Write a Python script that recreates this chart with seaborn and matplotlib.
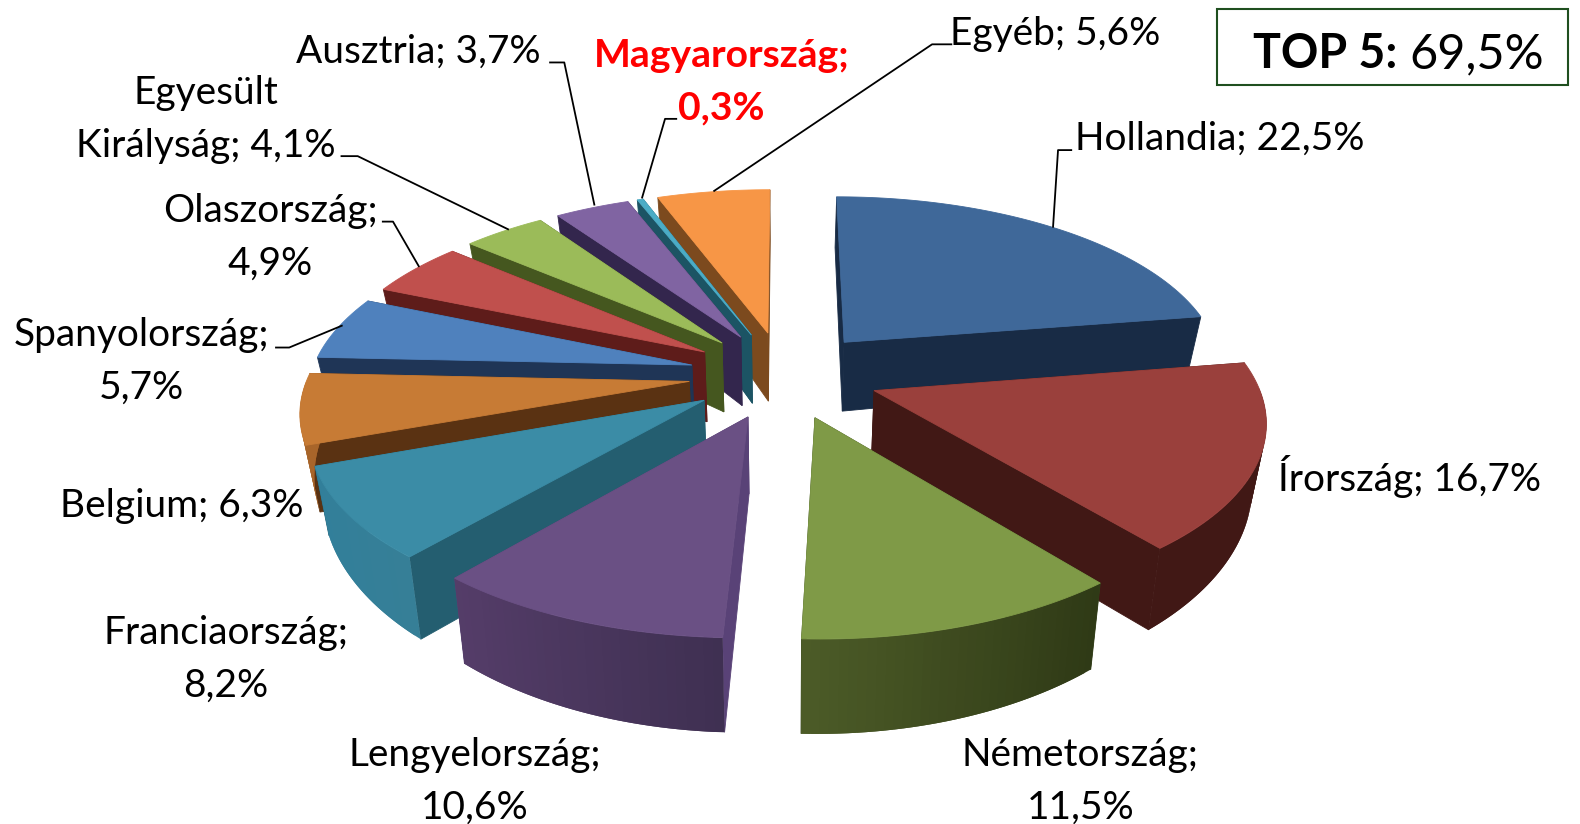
import numpy as np
import pandas as pd
import matplotlib
matplotlib.use("Agg")
import matplotlib.pyplot as plt
from matplotlib.patches import Polygon, Rectangle
import seaborn as sns

# ---- data -------------------------------------------------------------
countries = ["Hollandia", "Írország", "Németország", "Lengyelország", "Franciaország",
             "Belgium", "Spanyolország", "Olaszország", "Egyesült Királyság", "Ausztria",
             "Magyarország", "Egyéb"]
shares = [22.5, 16.7, 11.5, 10.6, 8.2, 6.3, 5.7, 4.9, 4.1, 3.7, 0.3, 5.6]
label_texts = ["Hollandia; 22,5%", "Írország; 16,7%", "Németország;\n11,5%", "Lengyelország;\n10,6%",
               "Franciaország;\n8,2%", "Belgium; 6,3%", "Spanyolország;\n5,7%", "Olaszország;\n4,9%",
               "Egyesült\nKirályság; 4,1%", "Ausztria; 3,7%", "Magyarország;\n0,3%", "Egyéb; 5,6%"]
top_colors = ["#3F6899", "#9A403C", "#7F9A47", "#6A5084", "#3B8CA6", "#C77B35",
              "#4F81BD", "#C0504D", "#9BBB59", "#8064A2", "#4BACC6", "#F79646"]
wall_colors = ["#182B45", "#411815", "#33401A", "#594277", "#245E70", "#5A3212",
               "#1F3556", "#5E1C1A", "#45571F", "#33264D", "#1C5464", "#7C4A1E"]
rim_left = ["#1C3350", "#411815", "#4D5C28", "#553D69", "#327F9A", "#A8652A",
            "#3A659A", "#8E3A38", "#6F8A3E", "#5E4979", "#327F94", "#B96F33"]
rim_right = ["#1C3350", "#411815", "#2F3A16", "#3F3052", "#367F97", "#A8652A",
             "#3A659A", "#8E3A38", "#6F8A3E", "#5E4979", "#327F94", "#B96F33"]

# ---- layout of labels and leaders (reference pixels) --------------------
label_pos = [(1067, 138, "left"), (1268, 473, "left"), (1072, 776, "center"), (471, 776, "center"),
             (224, 655, "center"), (301, 502, "right"), (140, 359, "center"), (268, 236, "center"),
             (204, 119, "center"), (537, 51, "right"), (716, 81, "center"), (1152, 34, "right")]
leaders = {
    "Hollandia": [(1064, 149), (1050, 149), (1045, 226)],
    "Egyéb": [(945, 44), (925, 44), (708, 190)],
    "Magyarország": [(672, 118), (660, 118), (637, 197)],
    "Ausztria": [(545, 62), (560, 62), (590, 204)],
    "Egyesült Királyság": [(338, 155), (355, 155), (505, 228)],
    "Olaszország": [(379, 220), (390, 220), (416, 265)],
    "Spanyolország": [(273, 345), (287, 345), (340, 323)],
}

sns.set_theme(style="white")
plt.rcParams["font.family"] = ["Lato", "DejaVu Sans"]

df = pd.DataFrame({"country": countries, "share": shares, "top": sns.color_palette(top_colors),
                   "wall": sns.color_palette(wall_colors), "rim_a": sns.color_palette(rim_left),
                   "rim_b": sns.color_palette(rim_right), "text": label_texts})
edges = np.concatenate([[0], np.cumsum(df["share"].to_numpy())]) / df["share"].sum() * 2 * np.pi
df["t0"], df["t1"] = edges[:-1], edges[1:]
df["mid"] = (df["t0"] + df["t1"]) / 2

CX, CY, K, KV, P, EXPLODE = 778, 372, 378, 174, 0.145, 0.25


def project(x, y, z):
    """Perspective view of a pie point; x right, y away from the viewer, z down (0-1)."""
    x, y, z = np.asarray(x, float), np.asarray(y, float), np.asarray(z, float)
    s = 1 / (1 + P * y)
    depth = 72 - 18 * y - 9 * x ** 2
    return np.column_stack([CX + K * x * s * (1 - 0.03 * z), CY - KV * y * s + z * depth])


fig = plt.figure(figsize=(15.8, 8.24), dpi=100, facecolor="white")
ax = fig.add_axes([0, 0, 1, 1])
ax.set_xlim(0, 1568)
ax.set_ylim(818, 0)
ax.set_axis_off()
sns.despine(ax=ax, left=True, bottom=True)


def face(pts, color, zo, lw=0.6):
    ax.add_patch(Polygon(pts, closed=True, facecolor=color, edgecolor=color if lw else "none", lw=lw, zorder=zo))


order = df.assign(oy=np.cos(df["mid"])).sort_values("oy", ascending=False)
for rank, (_, r) in enumerate(order.iterrows()):
    ox, oy = EXPLODE * np.sin(r["mid"]), EXPLODE * np.cos(r["mid"])
    n = max(6, int((r["t1"] - r["t0"]) / 0.02))
    t = np.linspace(r["t0"], r["t1"], n)
    ax_x, ax_y = ox + np.sin(t), oy + np.cos(t)
    zo = 2 + rank
    # radial walls, far one first
    walls = sorted([(ax_x[0], ax_y[0]), (ax_x[-1], ax_y[-1])], key=lambda p: -p[1])
    for wx, wy in walls:
        m = np.linspace(0, 1, 12)
        xs, ys = ox + (wx - ox) * m, oy + (wy - oy) * m
        quad = np.vstack([project(xs, ys, 0 * m), project(xs, ys, 0 * m + 1)[::-1]])
        face(quad, r["wall"], zo)
    # outer rim, front part only, with a left-to-right shade; each band overlaps the next
    a, b = np.array(r["rim_a"]), np.array(r["rim_b"])
    front = np.cos(t) < 0.02
    if front.sum() > 1:
        fx, fy = ax_x[front], ax_y[front]
        xmin, xmax = fx.min(), fx.max()
        for j in range(len(fx) - 1):
            xx, yy = fx[j:j + 3], fy[j:j + 3]
            f = (fx[j] - xmin) / max(xmax - xmin, 1e-6)
            quad = np.vstack([project(xx, yy, 0 * xx), project(xx, yy, 0 * xx + 1)[::-1]])
            face(quad, tuple(a + (b - a) * f), zo, lw=0)
    # top surface
    top = np.vstack([project([ox], [oy], [0]), project(ax_x, ax_y, 0 * t)])
    face(top, r["top"], zo)

# ---- labels -----------------------------------------------------------
FS = 28
for (_, r), (lx, ly, ha) in zip(df.iterrows(), label_pos):
    hungary = r["country"] == "Magyarország"
    ax.text(lx, ly, r["text"], ha=ha, va="center", fontsize=28.2 if hungary else FS, linespacing=1.58,
            color="#FF0000" if hungary else "black", fontweight="bold" if hungary else "normal",
            multialignment="center", zorder=40)
for pts in leaders.values():
    ax.plot(*zip(*pts), color="black", lw=1.3, zorder=30, solid_capstyle="butt")

# ---- TOP 5 box ----------------------------------------------------------
ax.add_patch(Rectangle((1208, 9), 348, 75, facecolor="white", edgecolor="#1F4F1F", lw=1.5, zorder=35))
ax.text(1387, 54, "TOP 5:", ha="right", va="center", fontsize=33.5, fontweight="bold", color="black", zorder=40)
ax.text(1399, 54, "69,5%", ha="left", va="center", fontsize=35, color="black", zorder=40)

fig.savefig("out.png", dpi=100, facecolor="white")
